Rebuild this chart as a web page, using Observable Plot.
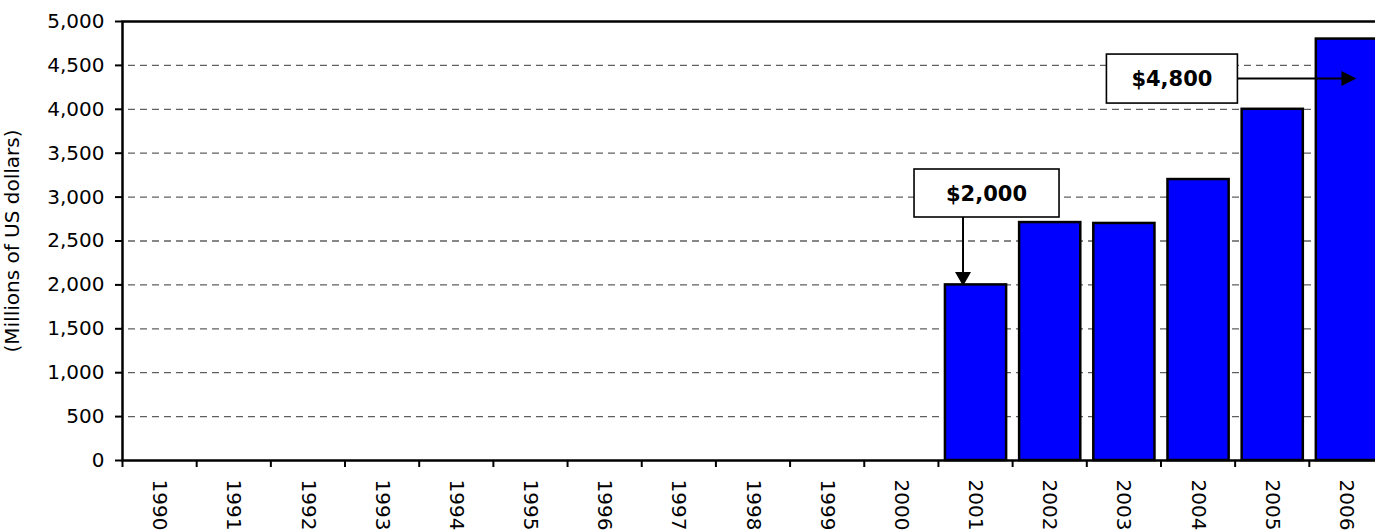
<!DOCTYPE html>
<html>
<head>
<meta charset="utf-8">
<script src="https://cdn.jsdelivr.net/npm/d3@7"></script>
<script src="https://cdn.jsdelivr.net/npm/@observablehq/plot@0.6"></script>
<style>
  html, body { margin: 0; padding: 0; background: #fff; overflow: hidden; }
  #chart svg { max-width: none; }
</style>
</head>
<body>
<div id="chart"></div>
<script>
// ---- data ----
const years = [1990, 1991, 1992, 1993, 1994, 1995, 1996, 1997, 1998, 1999, 2000, 2001, 2002, 2003, 2004, 2005, 2006];
const values = [null, null, null, null, null, null, null, null, null, null, null, 2000, 2710, 2700, 3200, 4000, 4800];
const yTicks = [0, 500, 1000, 1500, 2000, 2500, 3000, 3500, 4000, 4500, 5000];
const yTitle = "(Millions of US dollars)";
const annotationYears = [2001, 2006];
const annotationLabels = ["$2,000", "$4,800"];

const data = years.map((year, i) => ({year, value: values[i]})).filter(d => d.value != null);
const boundaries = years.map(y => y - 0.5).concat([years[years.length - 1] + 0.5]);
const fontFamily = "DejaVu Sans, Verdana, sans-serif";

// annotation drawing (positions expressed as pixel offsets from each annotated bar top)
const annotationStyle = [
  {box: [11.5, -91.4, 145, 48], arrow: "down", ax: -12},
  {box: [-174, 40, 131, 49], arrow: "right", ay: 40, tipX: 10.5}
];

function annotationMark(index, scales) {
  const sx = typeof scales.x === "function" ? scales.x : scales.scales.x.apply;
  const sy = typeof scales.y === "function" ? scales.y : scales.scales.y.apply;
  const g = d3.create("svg:g");
  annotationYears.forEach((yr, i) => {
    const v = values[years.indexOf(yr)];
    const px = sx(yr), py = sy(v);
    const st = annotationStyle[i];
    const [cx, cy, w, h] = [px + st.box[0], py + st.box[1], st.box[2], st.box[3]];
    if (st.arrow === "down") {
      const x = px + st.ax, y0 = cy + h / 2, tip = py + 1.5;
      g.append("line").attr("x1", x).attr("x2", x).attr("y1", y0).attr("y2", tip - 12)
        .attr("stroke", "#000").attr("stroke-width", 2);
      g.append("path").attr("d", `M${x - 8},${tip - 14}L${x + 8},${tip - 14}L${x},${tip}Z`).attr("fill", "#000");
    } else {
      const y = py + st.ay, x0 = cx + w / 2, tip = px + st.tipX;
      g.append("line").attr("x1", x0).attr("x2", tip - 12).attr("y1", y).attr("y2", y)
        .attr("stroke", "#000").attr("stroke-width", 2);
      g.append("path").attr("d", `M${tip - 15},${y - 7.5}L${tip - 15},${y + 7.5}L${tip},${y}Z`).attr("fill", "#000");
    }
    g.append("rect").attr("x", cx - w / 2).attr("y", cy - h / 2).attr("width", w).attr("height", h)
      .attr("fill", "#fff").attr("stroke", "#000").attr("stroke-width", 1.6);
    g.append("text").attr("x", cx).attr("y", cy).attr("dy", "0.36em")
      .attr("text-anchor", "middle").attr("font-family", fontFamily)
      .attr("font-size", 21).attr("font-weight", "bold").attr("fill", "#000")
      .text(annotationLabels[i]);
  });
  return g.node();
}

const chart = Plot.plot({
  width: 1390,
  height: 531,
  marginLeft: 122,
  marginRight: 7,
  marginTop: 21,
  marginBottom: 71,
  style: {fontFamily, color: "#000", background: "#fff", overflow: "visible"},
  x: {type: "linear", domain: [1989.5, 2006.5]},
  y: {domain: [0, 5000]},
  marks: [
    Plot.ruleY(yTicks.filter(d => d > 0 && d < 5000), {stroke: "#606060", strokeWidth: 1.3, strokeDasharray: "7,5", strokeDashoffset: -6}),
    Plot.rect(data, {
      x1: d => d.year - 0.5, x2: d => d.year + 0.5, y1: 0, y2: "value",
      fill: "#0000ff", stroke: "#000", strokeWidth: 2.5, insetLeft: 7, insetRight: 6
    }),
    Plot.frame({stroke: "#000", strokeWidth: 2.5}),
    Plot.axisY({ticks: yTicks, tickFormat: d3.format(","), tickSize: 7, tickPadding: 11, fontSize: 20, strokeWidth: 2, label: null}),
    Plot.axisX({ticks: boundaries, tickFormat: () => "", tickSize: 7, strokeWidth: 2, label: null}),
    Plot.axisX({ticks: years, tickFormat: d => String(d), tickSize: 0, tickPadding: 19, tickRotate: 90, fontSize: 20, label: null}),
    Plot.text([yTitle], {text: d => d, frameAnchor: "left", rotate: -90, dx: -110, fontSize: 20, textAnchor: "middle", lineAnchor: "middle"}),
    annotationMark
  ]
});
document.getElementById("chart").appendChild(chart);
</script>
</body>
</html>
